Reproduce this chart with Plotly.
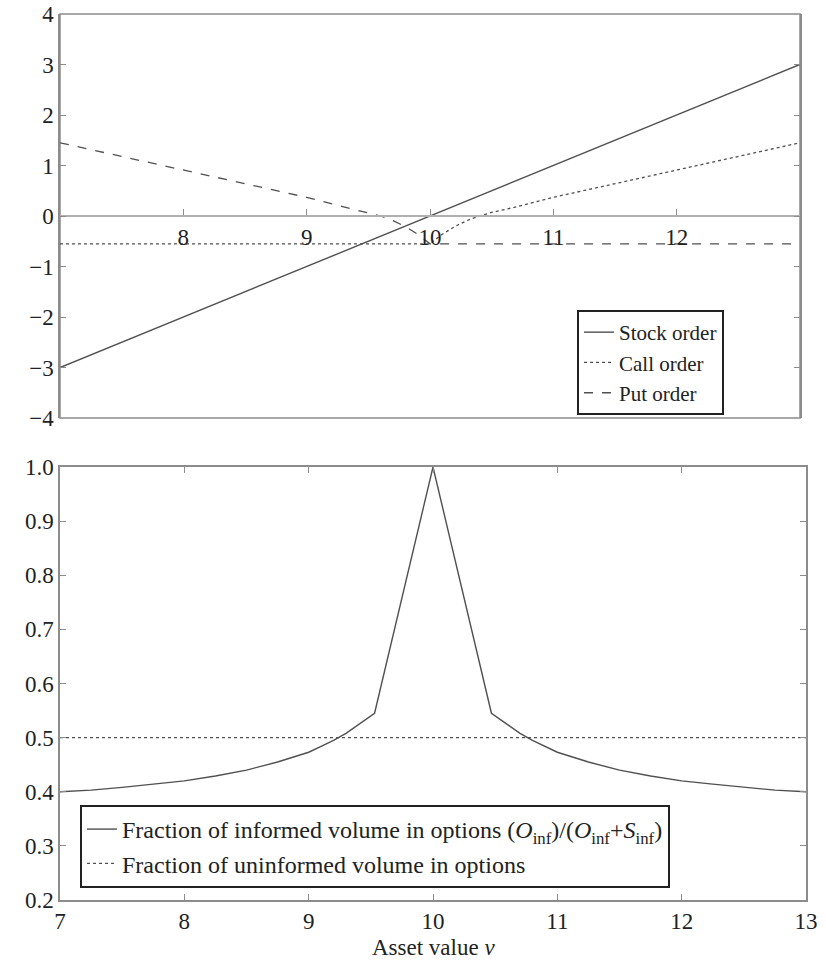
import plotly.graph_objects as go

# ---- data ----
v_stock = [7, 13]
stock_order = [-3, 3]

v_call = [7, 10, 10.1, 10.2, 10.3, 10.4, 10.5, 10.7, 11, 11.5, 12, 12.5, 13]
call_order = [-0.55, -0.55, -0.36, -0.21, -0.09, 0.0, 0.07, 0.18, 0.37, 0.64, 0.91, 1.18, 1.45]

v_put = [7, 7.5, 8, 8.5, 9, 9.3, 9.5, 9.6, 9.7, 9.8, 9.9, 10, 13]
put_order = [1.45, 1.18, 0.91, 0.64, 0.37, 0.18, 0.07, 0.0, -0.09, -0.21, -0.36, -0.55, -0.55]

v_frac = [7, 7.25, 7.5, 7.75, 8, 8.25, 8.5, 8.75, 9, 9.1, 9.2, 9.3, 9.4, 9.53, 10,
          10.47, 10.6, 10.7, 10.8, 10.9, 11, 11.25, 11.5, 11.75, 12, 12.25, 12.5, 12.75, 13]
informed_frac = [0.400, 0.403, 0.408, 0.414, 0.420, 0.429, 0.440, 0.455, 0.473, 0.484, 0.495,
                 0.508, 0.524, 0.545, 1.0,
                 0.545, 0.524, 0.508, 0.495, 0.484, 0.473, 0.455, 0.440, 0.429, 0.420, 0.414,
                 0.408, 0.403, 0.400]
v_unin = [7, 13]
uninformed_frac = [0.5, 0.5]

top_yticks = [4, 3, 2, 1, 0, -1, -2, -3, -4]
top_xticks = [8, 9, 10, 11, 12]
bot_xticks = [7, 8, 9, 10, 11, 12, 13]
bot_yticks = [0.2, 0.3, 0.4, 0.5, 0.6, 0.7, 0.8, 0.9, 1.0]

LINE = "#505050"
FRAME = "#8c8c8c"
TXT = "#222222"
FONT = "'Liberation Serif', 'Times New Roman', serif"
TICKSIZE = 23

fig = go.Figure()

fig.add_trace(go.Scatter(x=v_stock, y=stock_order, mode="lines", name="Stock order",
                         line=dict(color=LINE, width=1.4), xaxis="x", yaxis="y", legend="legend"))
fig.add_trace(go.Scatter(x=v_call, y=call_order, mode="lines", name="Call order",
                         line=dict(color=LINE, width=1.3, dash="dot"), xaxis="x", yaxis="y", legend="legend"))
fig.add_trace(go.Scatter(x=v_put, y=put_order, mode="lines", name="Put order",
                         line=dict(color=LINE, width=1.3, dash="dash"), xaxis="x", yaxis="y", legend="legend"))

fig.add_trace(go.Scatter(x=v_frac, y=informed_frac, mode="lines",
                         name="Fraction of informed volume in options (<i>O</i><sub>inf</sub>)/(<i>O</i><sub>inf</sub>+<i>S</i><sub>inf</sub>)",
                         line=dict(color=LINE, width=1.4), xaxis="x2", yaxis="y2", legend="legend2"))
fig.add_trace(go.Scatter(x=v_unin, y=uninformed_frac, mode="lines",
                         name="Fraction of uninformed volume in options",
                         line=dict(color=LINE, width=1.2, dash="dot"), xaxis="x2", yaxis="y2", legend="legend2"))

W, H = 826, 961
ml, mr, mt, mb = 60, 20, 14, 61
pw = W - ml - mr
ph = H - mt - mb

def py(pix):  # pixel y -> paper y
    return (H - mb - pix) / ph

def px(pix):
    return (pix - ml) / pw

tf = dict(family=FONT, size=TICKSIZE, color=TXT)

fig.update_layout(
    width=W, height=H,
    margin=dict(l=ml, r=mr, t=mt, b=mb, autoexpand=False),
    paper_bgcolor="white", plot_bgcolor="white",
    font=dict(family=FONT, size=TICKSIZE, color=TXT),
    xaxis=dict(domain=[0, px(800)], range=[7, 13], anchor="free", position=py(216),
               tickvals=top_xticks, ticks="inside", ticklen=6, tickcolor=FRAME,
               showline=True, linecolor="#b0b0b0", linewidth=2, showgrid=False, zeroline=False,
               tickfont=tf, automargin=False),
    yaxis=dict(domain=[py(418), 1], range=[-4, 4], anchor="x", tickvals=top_yticks,
               ticktext=[str(t) if t >= 0 else "\u2212" + str(-t) for t in top_yticks],
               ticks="inside", ticklen=6, tickcolor=FRAME, showline=True, mirror="ticks",
               linecolor=FRAME, linewidth=1.5, showgrid=False, zeroline=False,
               tickfont=tf, automargin=False),
    xaxis2=dict(domain=[0, 1], range=[7, 13], anchor="y2", tickvals=bot_xticks,
                ticks="inside", ticklen=6, tickcolor=FRAME, showline=True, mirror="ticks",
                linecolor=FRAME, linewidth=1.5, showgrid=False, zeroline=False,
                tickfont=tf, automargin=False),
    yaxis2=dict(domain=[0, py(467)], range=[0.2, 1.0], anchor="x2", tickvals=bot_yticks,
                tickformat=".1f", ticks="inside", ticklen=6, tickcolor=FRAME, showline=True,
                mirror="ticks", linecolor=FRAME, linewidth=1.5, showgrid=False, zeroline=False,
                tickfont=tf, automargin=False),
    legend=dict(x=px(577), y=py(310), xanchor="left", yanchor="top",
                bgcolor="white", bordercolor="#222", borderwidth=2,
                font=dict(family=FONT, size=21, color=TXT), tracegroupgap=0,
                itemwidth=30),
    legend2=dict(x=px(80), y=py(805), xanchor="left", yanchor="top",
                 bgcolor="white", bordercolor="#222", borderwidth=2,
                 font=dict(family=FONT, size=24, color=TXT), tracegroupgap=0,
                 itemwidth=30),
    shapes=[
        dict(type="rect", xref="x domain", yref="y domain", x0=0, x1=1, y0=0, y1=1,
             line=dict(color=FRAME, width=1.5), layer="below"),
    ],
    annotations=[
        dict(text="Asset value <i>v</i>", xref="paper", yref="paper",
             x=px(433), y=py(947), xanchor="center", yanchor="middle", showarrow=False,
             font=dict(family=FONT, size=23, color=TXT)),
    ],
    showlegend=True,
)

fig.write_html("out.html", config={"displayModeBar": False},
               post_script="document.body.style.margin='0';document.body.style.overflow='hidden';")
